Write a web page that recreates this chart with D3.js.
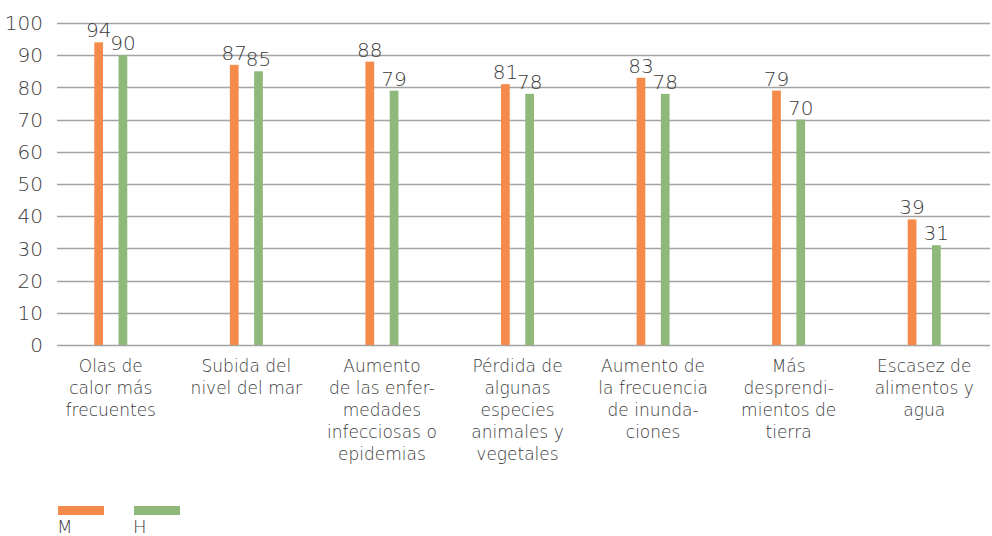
<!DOCTYPE html>
<html>
<head>
<meta charset="utf-8">
<script src="https://cdn.jsdelivr.net/npm/d3@7"></script>
<style>
  body { margin: 0; background: #fff; }
  text { font-family: "DejaVu Sans", sans-serif; font-weight: 200; fill: #3a3a3a; }
</style>
</head>
<body>
<div id="chart"></div>
<script>
(function(){
  var width = 992,
      height = 536;

  // data
  var categories = [
    "Olas de\ncalor más\nfrecuentes",
    "Subida del\nnivel del mar",
    "Aumento\nde las enfer-\nmedades\ninfecciosas o\nepidemias",
    "Pérdida de\nalgunas\nespecies\nanimales y\nvegetales",
    "Aumento de\nla frecuencia\nde inunda-\nciones",
    "Más\ndesprendi-\nmientos de\ntierra",
    "Escasez de\nalimentos y\nagua"
  ];
  var seriesNames = ["M", "H"];
  var valuesM = [94, 87, 88, 81, 83, 79, 39];
  var valuesH = [90, 85, 79, 78, 78, 70, 31];
  var yTicks = [0, 10, 20, 30, 40, 50, 60, 70, 80, 90, 100];

  var colors = { M: "#f58b4b", H: "#8eb97a" };

  var svg = d3.select("#chart")
    .append("svg")
    .attr("width", width)
    .attr("height", height);

  var gridLeft = 57, gridRight = 990;

  var x = d3.scaleBand()
    .domain(categories)
    .range([43, 992]);

  var xSub = d3.scaleBand()
    .domain(seriesNames)
    .range([-16.5, 16.5])
    .paddingInner(0.64)
    .paddingOuter(0);

  var y = d3.scaleLinear()
    .domain([0, 100])
    .range([345, 23]);

  // gridlines
  svg.append("g")
    .selectAll("line")
    .data(yTicks)
    .enter().append("line")
    .attr("x1", gridLeft)
    .attr("x2", gridRight)
    .attr("y1", function(d){ return Math.round(y(d)) + 0.5; })
    .attr("y2", function(d){ return Math.round(y(d)) + 0.5; })
    .attr("stroke", "#a3a3a3")
    .attr("stroke-width", 1.3);

  // y labels
  svg.append("g")
    .selectAll("text")
    .data(yTicks)
    .enter().append("text")
    .attr("x", 43)
    .attr("y", function(d){ return y(d); })
    .attr("dy", "0.36em")
    .attr("text-anchor", "end")
    .style("font-size", "20px")
    .text(function(d){ return d; });

  var rows = categories.map(function(c, i){
    return { cat: c, M: valuesM[i], H: valuesH[i] };
  });

  var groups = svg.append("g")
    .selectAll("g")
    .data(rows)
    .enter().append("g")
    .attr("transform", function(d){ return "translate(" + (x(d.cat) + x.bandwidth()/2) + ",0)"; });

  groups.selectAll("rect")
    .data(function(d){ return seriesNames.map(function(s){ return { s: s, v: d[s] }; }); })
    .enter().append("rect")
    .attr("x", function(d){ return xSub(d.s); })
    .attr("width", xSub.bandwidth())
    .attr("y", function(d){ return y(d.v); })
    .attr("height", function(d){ return y(0) - y(d.v); })
    .attr("fill", function(d){ return colors[d.s]; });

  groups.selectAll(".val")
    .data(function(d){ return seriesNames.map(function(s){ return { s: s, v: d[s] }; }); })
    .enter().append("text")
    .attr("class", "val")
    .attr("x", function(d){ return xSub(d.s) + xSub.bandwidth()/2; })
    .attr("y", function(d){ return y(d.v) - 5; })
    .attr("text-anchor", "middle")
    .style("font-size", "20px")
    .text(function(d){ return d.v; });

  // category labels
  groups.append("text")
    .attr("text-anchor", "middle")
    .style("font-size", "17px")
    .selectAll("tspan")
    .data(function(d){ return d.cat.split("\n"); })
    .enter().append("tspan")
    .attr("x", 0)
    .attr("y", function(d, i){ return 372 + i * 22; })
    .text(function(d){ return d; });

  // legend
  var legend = svg.append("g")
    .selectAll("g")
    .data(seriesNames)
    .enter().append("g")
    .attr("transform", function(d, i){ return "translate(" + (58 + i * 76) + ",0)"; });

  legend.append("rect")
    .attr("x", 0)
    .attr("y", 506)
    .attr("width", 46)
    .attr("height", 9)
    .attr("fill", function(d){ return colors[d]; });

  legend.append("text")
    .attr("x", -1)
    .attr("y", 533)
    .style("font-size", "18px")
    .text(function(d){ return d; });
})();
</script>
</body>
</html>
